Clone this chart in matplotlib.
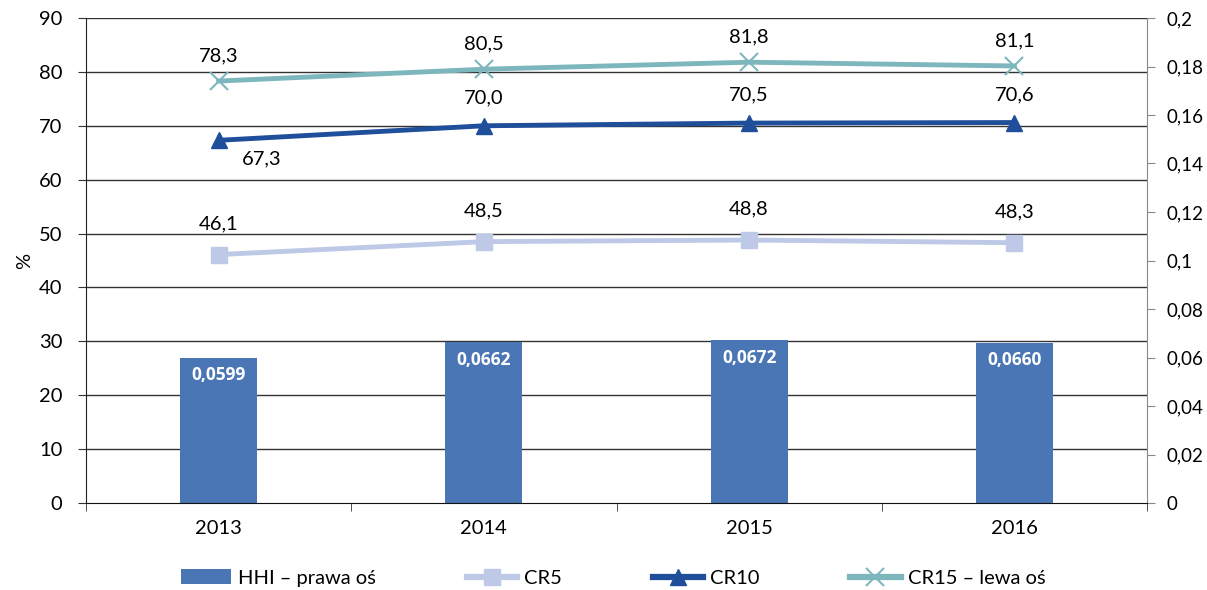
import matplotlib
matplotlib.use("Agg")
import matplotlib.pyplot as plt
from matplotlib.ticker import FixedLocator, FuncFormatter
import numpy as np

years = ["2013", "2014", "2015", "2016"]
hhi = [0.0599, 0.0662, 0.0672, 0.0660]
cr5 = [46.1, 48.5, 48.8, 48.3]
cr10 = [67.3, 70.0, 70.5, 70.6]
cr15 = [78.3, 80.5, 81.8, 81.1]

plt.rcParams['font.family'] = ['Lato', 'DejaVu Sans']

def pl(v, dec):
    return f"{v:.{dec}f}".replace(".", ",")

fig = plt.figure(figsize=(12.07, 5.90), dpi=100)
ax = fig.add_axes([86/1207, 1-503/590, (1147-86)/1207, (503-18)/590])
ax2 = ax.twinx()

x = np.arange(len(years))
c_hhi = "#4A76B5"
c_cr5 = "#BDC9E6"
c_cr10 = "#1F4E9A"
c_cr15 = "#7DB7BD"

ax.set_zorder(1)
ax.patch.set_visible(False)
ax2.set_zorder(0)
bars = ax2.bar(x, hhi, width=0.29, color=c_hhi, zorder=2, label="HHI – prawa oś")
for xi, v in zip(x, hhi):
    ax2.text(xi, v - 0.0035, pl(v, 4), ha="center", va="top", color="white",
             fontsize=12.5, fontweight="bold", family=["Open Sans", "DejaVu Sans"], zorder=3)

ax.set_xlim(-0.5, 3.5)
ax.set_ylim(0, 90)
ax2.set_ylim(0, 0.2)

for yv in range(10, 91, 10):
    ax2.axhline(yv / 450, color="#333333", lw=1.0, zorder=1)

l5, = ax.plot(x, cr5, color=c_cr5, lw=3.5, marker="s", ms=12, label="CR5", zorder=4)
l10, = ax.plot(x, cr10, color=c_cr10, lw=3.5, marker="^", ms=12, label="CR10", zorder=4)
l15, = ax.plot(x, cr15, color=c_cr15, lw=3.5, marker="x", ms=13, mew=1.5, label="CR15 – lewa oś", zorder=4)

fs = 14.5
for i, (a, b, c) in enumerate(zip(cr5, cr10, cr15)):
    ax.annotate(pl(a, 1), (x[i], a), xytext=(0, 16), textcoords="offset points",
                ha="center", va="bottom", fontsize=fs)
    if i == 0:
        ax.annotate(pl(b, 1), (x[i], b), xytext=(17, -13), textcoords="offset points",
                    ha="left", va="center", fontsize=fs)
    else:
        ax.annotate(pl(b, 1), (x[i], b), xytext=(0, 14), textcoords="offset points",
                    ha="center", va="bottom", fontsize=fs)
    ax.annotate(pl(c, 1), (x[i], c), xytext=(0, 12), textcoords="offset points",
                ha="center", va="bottom", fontsize=fs)

ax.set_yticks(range(0, 91, 10))
ax.yaxis.set_major_formatter(FuncFormatter(lambda v, p: f"{int(v)}"))
ax2.set_yticks(np.arange(0, 0.2001, 0.02))
ax2.yaxis.set_major_formatter(FuncFormatter(lambda v, p: "0" if abs(v) < 1e-9 else pl(v, 2).rstrip("0").rstrip(",")))
ax.set_xticks(x)
ax.set_xticklabels(years)
ax.tick_params(axis="x", length=0, labelsize=fs, pad=12)
ax.xaxis.set_minor_locator(FixedLocator([-0.5, 0.5, 1.5, 2.5, 3.5]))
ax.tick_params(axis="x", which="minor", length=6, direction="out", color="#333333")
ax.tick_params(axis="y", labelsize=fs, length=6, color="#333333", pad=11)
ax2.tick_params(axis="y", labelsize=13.5, length=6, color="#888888", pad=8)
ax.set_ylabel("%", fontsize=fs, labelpad=4)

ax.spines["top"].set_visible(False)
ax2.spines["top"].set_visible(False)
ax.spines["right"].set_visible(False)
ax2.spines["left"].set_visible(False)
ax.spines["left"].set_color("#222222")
ax.spines["bottom"].set_color("#111111")
ax2.spines["right"].set_color("#888888")
ax2.spines["bottom"].set_visible(False)

handles = [bars, l5, l10, l15]
labels = ["HHI – prawa oś", "CR5", "CR10", "CR15 – lewa oś"]
leg = fig.legend(handles, labels, loc="center", bbox_to_anchor=(0.508, 1-578/590), ncol=4,
                 frameon=False, fontsize=fs, handlelength=2.5, columnspacing=4.5,
                 handletextpad=0.35)
for lh in leg.legend_handles[1:]:
    lh.set_linewidth(4.5)

fig.savefig("out.png", dpi=100)
